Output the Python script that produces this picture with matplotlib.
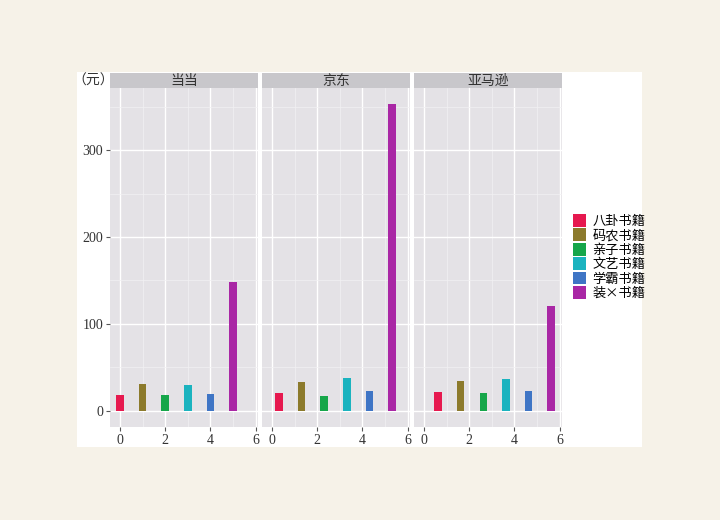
import matplotlib
matplotlib.use("agg")
import matplotlib.pyplot as plt
from matplotlib.patches import Rectangle, Patch
import numpy as np

# data
shops = ['当当', '京东', '亚马逊']
books = ['八卦书籍', '码农书籍', '亲子书籍', '文艺书籍', '学霸书籍', '装×书籍']
prices = {
    '当当': [18, 31, 18, 29, 19, 148],
    '京东': [20, 33, 17, 37, 22, 354],
    '亚马逊': [21, 34, 20, 36, 23, 120],
}
colors = ['#e6194f', '#8c7a2c', '#16a64a', '#1bb3bf', '#3f75c5', '#a927a5']

fonts = ['Liberation Serif', 'Noto Sans CJK SC']
plt.rcParams['font.family'] = fonts

fig = plt.figure(figsize=(7.2, 5.2), dpi=100)
fig.patch.set_facecolor('#f6f2e8')
fig.patches.append(Rectangle((77 / 720, 1 - 447 / 520), 565 / 720, 375 / 520,
                             transform=fig.transFigure, facecolor='white',
                             edgecolor='none', zorder=-10))

lefts = [110, 262, 414]
bottom = 1 - 427 / 520
height = (427 - 88) / 520
width = 148 / 720
strip_h = 15 / 520

for k, shop in enumerate(shops):
    ax = fig.add_axes([lefts[k] / 720, bottom, width, height])
    ax.set_facecolor('#e4e2e6')
    x = np.arange(len(books)) + k * 0.31
    ax.bar(x, prices[shop], width=0.33, color=colors, zorder=3)
    ax.set_xlim(-0.44, 6.1)
    ax.set_ylim(-19, 372)
    ax.set_xticks([0, 2, 4, 6])
    ax.set_xticks([1, 3, 5], minor=True)
    ax.set_yticks([0, 100, 200, 300])
    ax.set_yticks([50, 150, 250, 350], minor=True)
    ax.grid(True, which='major', color='white', linewidth=1.0, zorder=1)
    ax.grid(True, which='minor', color='#f2f1f3', linewidth=0.5, zorder=1)
    for s in ax.spines.values():
        s.set_visible(False)
    ax.tick_params(which='minor', length=0)
    ax.tick_params(which='major', length=3, color='#555555', labelsize=10,
                   labelcolor='#333333', pad=2)
    if k > 0:
        ax.tick_params(axis='y', left=False, labelleft=False)
    ax.add_patch(Rectangle((0, 1), 1, strip_h / height, transform=ax.transAxes,
                           facecolor='#c8c7cb', edgecolor='none', clip_on=False))
    ax.text(0.5, 1 + strip_h / height / 2, shop, transform=ax.transAxes,
            ha='center', va='center', fontsize=10, color='#333333',
            family=['Noto Sans CJK SC'])

fig.text(72 / 720, 1 - 81 / 520, '（元）', ha='left', va='center', fontsize=10,
         color='#333333', family=['Noto Sans CJK SC'])

handles = [Patch(facecolor=c, edgecolor='none') for c in colors]
fig.legend(handles, books, loc='center left', bbox_to_anchor=(566 / 720, 1 - 257 / 520),
           frameon=False, handlelength=1.0, handleheight=1.1,
           handletextpad=0.5, labelspacing=0.05, borderpad=0,
           prop={'family': ['Noto Sans CJK SC'], 'size': 9.5})

fig.savefig('out.png', dpi=100, facecolor=fig.get_facecolor())
